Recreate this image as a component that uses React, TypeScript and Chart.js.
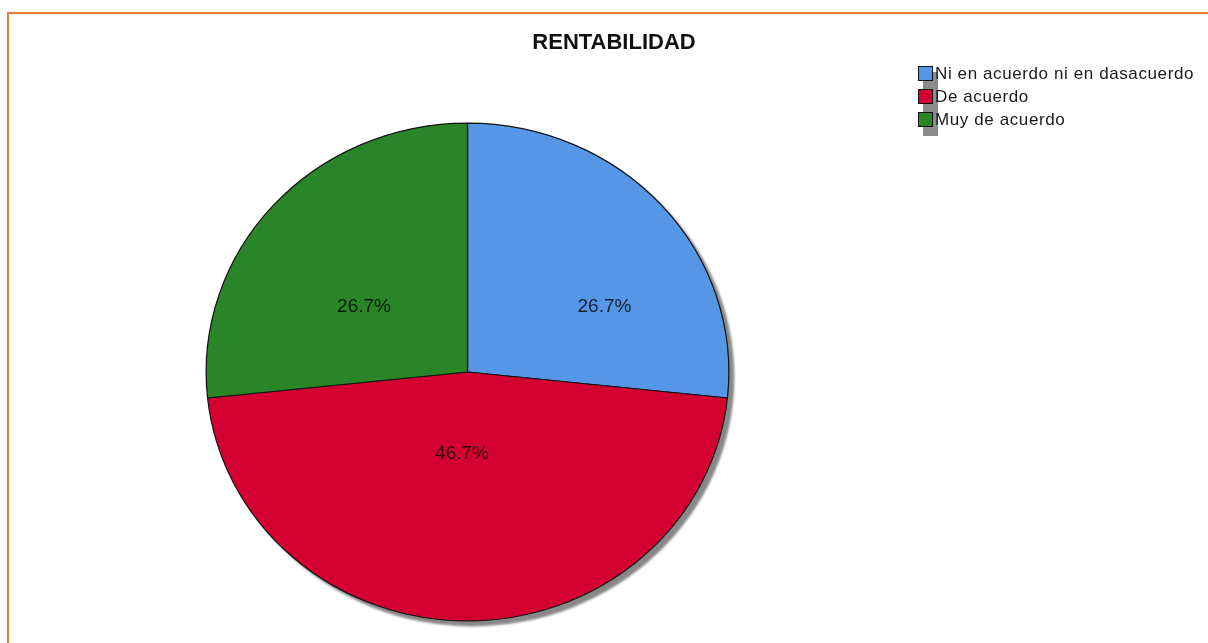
import React, { useEffect, useRef } from 'react';
import { Chart, registerables } from 'chart.js';

Chart.register(...registerables);

const TITLE = 'RENTABILIDAD';
const CATEGORIES = ['Ni en acuerdo ni en dasacuerdo', 'De acuerdo', 'Muy de acuerdo'];
const COUNTS = [4, 7, 4];
const COLORS = ['#5596E6', '#D50032', '#2A8428'];

const FONT = '"Liberation Sans", Arial, Helvetica, sans-serif';

const pieDecor = {
  id: 'pieDecor',
  beforeDatasetsDraw(chart: any, _args: any, opts: any) {
    const arc = chart.getDatasetMeta(0).data[0];
    if (!arc) return;
    const { x, y, outerRadius } = arc as any;
    const ctx = chart.ctx;
    ctx.save();
    ctx.translate(x, y);
    ctx.scale(opts.scaleX, 1);
    ctx.translate(-x, -y);
    // drop shadow
    ctx.save();
    ctx.filter = 'blur(1px)';
    ctx.beginPath();
    ctx.arc(x + opts.shadowX / opts.scaleX, y + opts.shadowY, outerRadius + 0.5, 0, Math.PI * 2);
    ctx.fillStyle = opts.shadowColor;
    ctx.fill();
    ctx.restore();
  },
  afterDatasetsDraw(chart: any, _args: any, opts: any) {
    const ctx = chart.ctx;
    ctx.restore();
    const meta = chart.getDatasetMeta(0);
    const data = chart.data.datasets[0].data as number[];
    const total = data.reduce((a, b) => a + b, 0);
    ctx.save();
    ctx.font = `${opts.labelSize}px ${FONT}`;
    ctx.fillStyle = opts.labelColor;
    ctx.textAlign = 'center';
    ctx.textBaseline = 'middle';
    meta.data.forEach((el: any, i: number) => {
      const r = el.outerRadius;
      const a = opts.labelAnchors[i];
      const lx = el.x + a[0] * r * opts.scaleX;
      const ly = el.y + a[1] * r;
      ctx.fillText(((data[i] / total) * 100).toFixed(1) + '%', lx, ly);
    });
    ctx.restore();
  },
  afterDraw(chart: any, _args: any, opts: any) {
    const ctx = chart.ctx;
    ctx.save();
    // title
    ctx.font = `bold ${opts.titleSize}px ${FONT}`;
    ctx.fillStyle = '#111';
    ctx.textAlign = 'center';
    ctx.textBaseline = 'middle';
    ctx.fillText(TITLE, opts.titleX, opts.titleY);
    // legend
    const lx = opts.legendX;
    const ly = opts.legendY;
    const bs = opts.boxSize;
    const step = opts.rowStep;
    const n = CATEGORIES.length;
    ctx.fillStyle = '#8c8c8c';
    ctx.fillRect(lx + 5, ly + 6, bs, (n - 1) * step + bs + 3);
    ctx.font = `${opts.legendSize}px ${FONT}`;
    (ctx as any).letterSpacing = opts.legendSpacing;
    ctx.textAlign = 'left';
    CATEGORIES.forEach((c, i) => {
      const by = ly + i * step;
      ctx.fillStyle = COLORS[i];
      ctx.fillRect(lx, by, bs, bs);
      ctx.strokeStyle = '#111';
      ctx.lineWidth = 1;
      ctx.strokeRect(lx + 0.5, by + 0.5, bs - 1, bs - 1);
      ctx.fillStyle = '#1a1a1a';
      ctx.fillText(c, lx + bs + 2, by + bs / 2 + 1);
    });
    ctx.restore();
  },
};

export default function App() {
  const ref = useRef<HTMLCanvasElement | null>(null);

  useEffect(() => {
    if (!ref.current) return;
    const chart = new Chart(ref.current, {
      type: 'pie',
      data: {
        labels: CATEGORIES,
        datasets: [
          {
            data: COUNTS,
            backgroundColor: COLORS,
            borderColor: '#141414',
            borderWidth: 1.2,
          },
        ],
      },
      options: {
        responsive: false,
        animation: false,
        events: [],
        layout: { padding: { left: 218, right: 491, top: 122.5, bottom: 21.5 } },
        plugins: {
          legend: { display: false },
          title: { display: false },
          tooltip: { enabled: false },
          pieDecor: {
            scaleX: 1.05,
            shadowX: 5,
            shadowY: 5,
            shadowColor: '#888888',
            labelSize: 19,
            labelColor: 'rgba(0,0,0,0.78)',
            labelAnchors: [
              [0.524, -0.261],
              [-0.021, 0.329],
              [-0.396, -0.261],
            ],
            titleSize: 22,
            titleX: 614,
            titleY: 43,
            legendX: 918,
            legendY: 66,
            boxSize: 15,
            rowStep: 23,
            legendSize: 17,
            legendSpacing: '0.6px',
          },
        } as any,
      },
      plugins: [pieDecor as any],
    });
    return () => chart.destroy();
  }, []);

  return (
    <div
      style={{
        position: 'absolute',
        left: 0,
        top: 0,
        width: 1208,
        height: 643,
        overflow: 'hidden',
        background: '#fff',
      }}
    >
      <canvas ref={ref} width={1208} height={643} style={{ position: 'absolute', left: 0, top: 0 }} />
      <div
        style={{
          position: 'absolute',
          left: 7,
          top: 12,
          width: 1400,
          height: 800,
          borderTop: '2px solid #ED7D31',
          borderLeft: '2px solid #ED7D31',
          pointerEvents: 'none',
        }}
      />
    </div>
  );
}
